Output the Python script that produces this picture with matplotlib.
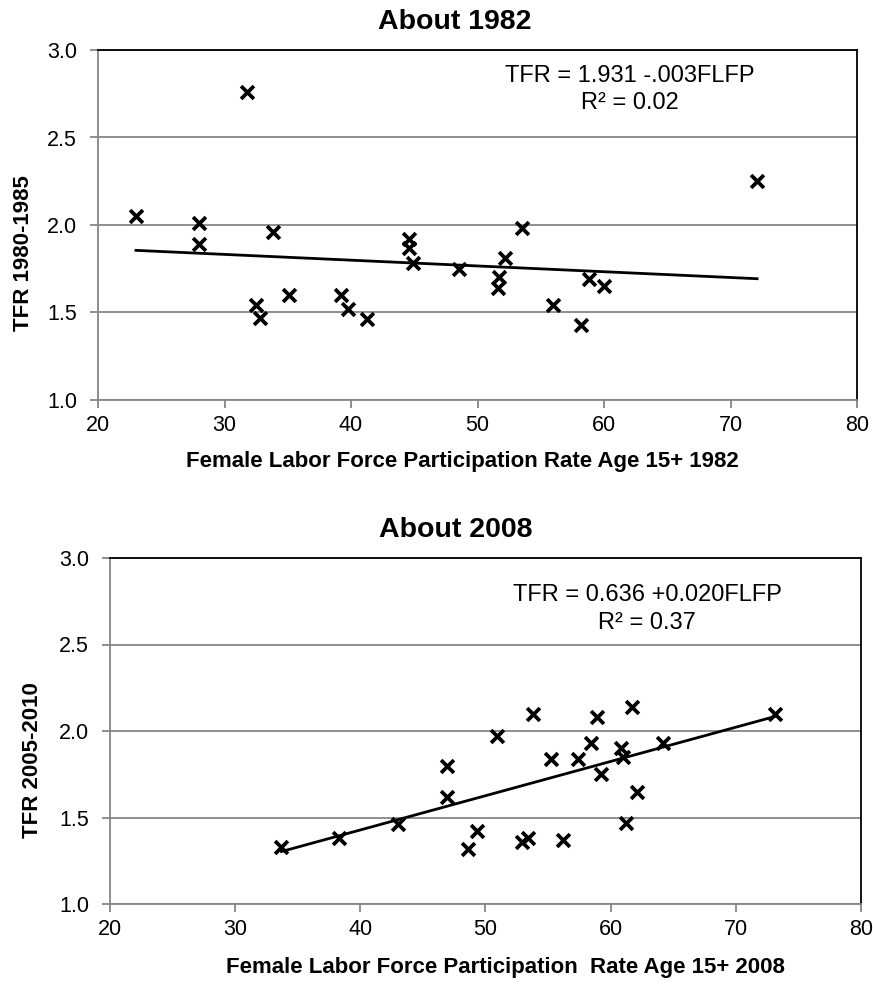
import matplotlib
matplotlib.use("Agg")
import matplotlib.pyplot as plt
import numpy as np

# ---- data: about 1982 ----
flfp_1982 = [23.0, 28.0, 28.0, 31.8, 33.8, 32.5, 32.8, 35.1, 39.2, 39.8, 41.3,
             44.6, 44.6, 44.9, 48.5, 52.2, 51.7, 51.6, 53.5, 56.0, 58.2, 58.8,
             60.0, 72.1]
tfr_1982 = [2.05, 2.01, 1.89, 2.76, 1.96, 1.54, 1.47, 1.60, 1.60, 1.52, 1.46,
            1.92, 1.87, 1.78, 1.75, 1.81, 1.70, 1.64, 1.98, 1.54, 1.43, 1.69,
            1.65, 2.25]
fit_1982 = (1.931, -0.0033)
eq_1982 = ["TFR = 1.931 -.003FLFP", "R² = 0.02"]

# ---- data: about 2008 ----
flfp_2008 = [33.7, 38.3, 43.0, 46.9, 46.9, 48.6, 49.3, 50.9, 53.8, 52.9, 53.4,
             55.2, 56.2, 57.4, 58.4, 58.9, 59.2, 60.8, 61.0, 61.2, 61.7, 62.1,
             64.2, 73.1]
tfr_2008 = [1.33, 1.38, 1.46, 1.80, 1.62, 1.32, 1.42, 1.97, 2.10, 1.36, 1.38,
            1.84, 1.37, 1.84, 1.93, 2.08, 1.75, 1.90, 1.85, 1.47, 2.14, 1.65,
            1.93, 2.10]
fit_2008 = (0.636, 0.0198)
eq_2008 = ["TFR = 0.636 +0.020FLFP", "R² = 0.37"]

x_ticks = [20, 30, 40, 50, 60, 70, 80]
y_ticks = [1.0, 1.5, 2.0, 2.5, 3.0]

plt.rcParams["font.family"] = ["Liberation Sans", "DejaVu Sans"]

W, H = 873, 985
fig = plt.figure(figsize=(W / 100, H / 100), dpi=100)

GRAY = "#868686"


def px_text(x, y, s, **kw):
    """Place figure text at pixel coordinates measured from the top-left."""
    fig.text(x / W, 1 - y / H, s, ha="center", va="center", **kw)


def panel(rect, xs, ys, fit, eq, eq_pos, title, title_pos, xlabel, xlabel_pos,
          ylabel, ylabel_pos):
    l, t, r, b = rect
    ax = fig.add_axes([l / W, 1 - b / H, (r - l) / W, (b - t) / H])
    ax.set_xlim(20, 80)
    ax.set_ylim(1.0, 3.0)
    ax.set_xticks(x_ticks)
    ax.set_yticks(y_ticks)
    ax.set_yticklabels([f"{v:.1f}" for v in y_ticks])
    ax.grid(axis="y", color=GRAY, linewidth=1.3)
    ax.set_axisbelow(True)
    for s in ("left", "bottom"):
        ax.spines[s].set_color(GRAY)
        ax.spines[s].set_linewidth(1.3)
    for s in ("top", "right"):
        ax.spines[s].set_color("black")
        ax.spines[s].set_linewidth(1.3)
    ax.tick_params(axis="both", direction="out", length=6, width=1.3,
                   color=GRAY, labelsize=15.5, labelcolor="black")
    ax.tick_params(axis="x", pad=5)
    ax.tick_params(axis="y", pad=9)

    ax.scatter(xs, ys, marker="x", s=85, linewidths=2.7, color="black", zorder=3)
    a, bcoef = fit
    xl = np.array([min(xs), max(xs)])
    ax.plot(xl, a + bcoef * xl, color="black", linewidth=2, zorder=2)

    ex, ey1, ey2 = eq_pos
    px_text(ex, ey1, eq[0], fontsize=17)
    px_text(ex, ey2, eq[1], fontsize=17)
    px_text(*title_pos, title, fontsize=20.5, fontweight="bold")
    px_text(*xlabel_pos, xlabel, fontsize=16, fontweight="bold")
    px_text(*ylabel_pos, ylabel, fontsize=16, fontweight="bold", rotation=90)
    return ax


panel((98, 50, 857, 400), flfp_1982, tfr_1982, fit_1982, eq_1982,
      (630, 76, 103),
      "About 1982", (455, 22),
      "Female Labor Force Participation Rate Age 15+ 1982", (462, 461),
      "TFR 1980-1985", (24, 253))
panel((110, 558, 861, 904), flfp_2008, tfr_2008, fit_2008, eq_2008,
      (647, 595, 623),
      "About 2008", (456, 530),
      "Female Labor Force Participation  Rate Age 15+ 2008", (505, 968),
      "TFR 2005-2010", (33, 760))

fig.savefig("out.png", dpi=100, facecolor="white")
